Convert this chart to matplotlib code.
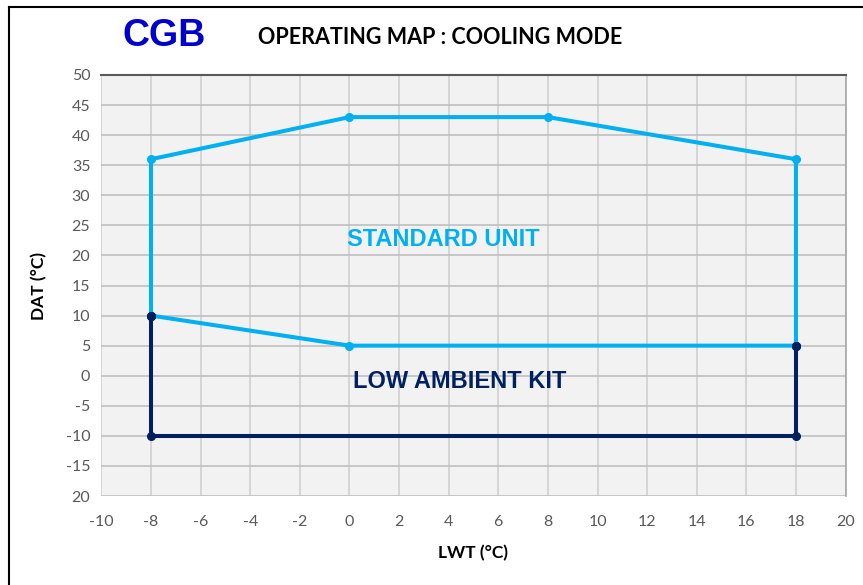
import matplotlib
matplotlib.use("Agg")
import matplotlib.pyplot as plt
from matplotlib.lines import Line2D

plt.rcParams["axes.unicode_minus"] = False

# Data
std_x = [-8, -8, 0, 8, 18, 18, 0, -8]
std_y = [10, 36, 43, 43, 36, 5, 5, 10]
low_x = [-8, -8, 18, 18]
low_y = [10, -10, -10, 5]
x_ticks = list(range(-10, 21, 2))
y_ticks = list(range(-20, 51, 5))
y_ticklabels = ["20"] + [str(v) for v in range(-15, 51, 5)]

light = "#00b0f0"
navy = "#002060"

fig = plt.figure(figsize=(8.63, 5.85), dpi=100)
ax = fig.add_axes([0.1175, 0.1521, 0.8623, 0.7197])
ax.set_facecolor("#f2f2f2")

ax.plot(std_x, std_y, color=light, lw=2.9, marker="o", ms=5.5, zorder=3,
        solid_joinstyle="round")
ax.plot(low_x, low_y, color=navy, lw=2.9, marker="o", ms=5.5, zorder=4,
        solid_joinstyle="round")
ax.plot([-8, 18], [10, 5], ls="none", marker="o", ms=5.5, color=navy, zorder=5)

ax.set_xlim(-10, 20)
ax.set_ylim(-20, 50)
ax.set_xticks(x_ticks)
ax.set_yticks(y_ticks)
ax.set_yticklabels(y_ticklabels)
ax.grid(True, axis="x", color="#d0d0d0", lw=1.2)
ax.grid(True, axis="y", color="#bfbfbf", lw=1.2)
ax.set_axisbelow(True)
for s in ["left", "bottom"]:
    ax.spines[s].set_visible(False)
ax.spines["top"].set_color("#595959")
ax.spines["top"].set_linewidth(1.5)
ax.spines["right"].set_color("#a6a6a6")
ax.spines["right"].set_linewidth(1.2)
ax.tick_params(length=0, labelsize=11.5, labelcolor="#595959", pad=8)
for lab in ax.get_xticklabels() + ax.get_yticklabels():
    lab.set_fontfamily("Lato")
ax.tick_params(axis="x", pad=14)

ax.set_xlabel("LWT (°C)", fontfamily="Lato", fontweight="bold", fontsize=12.5,
              labelpad=11)
ax.set_ylabel("DAT (°C)", fontfamily="Lato", fontweight="bold", fontsize=12.5,
              labelpad=13)

ax.text(3.77, 22.7, "STANDARD UNIT", color=light, fontsize=17, fontweight="bold",
        fontfamily="Liberation Sans", ha="center", va="center")
ax.text(4.46, -1.0, "LOW AMBIENT KIT", color=navy, fontsize=17, fontweight="bold",
        fontfamily="Liberation Sans", ha="center", va="center")

fig.text(164 / 863, 1 - 36 / 585, "CGB", color="#0000cc", fontsize=27,
         fontweight="bold", fontfamily="Liberation Sans", ha="center", va="center")
fig.text(440 / 863, 1 - 38 / 585, "OPERATING MAP : COOLING MODE", color="black",
         fontsize=15.5, fontweight="bold", fontfamily="Lato", ha="center", va="center")

# outer frame (top and left edges visible)
fig.add_artist(Line2D([9 / 863, 1.0], [1 - 7 / 585, 1 - 7 / 585],
                      transform=fig.transFigure, color="black", lw=1.5))
fig.add_artist(Line2D([9 / 863, 9 / 863], [0, 1 - 7 / 585],
                      transform=fig.transFigure, color="black", lw=1.5))

fig.savefig("out.png", dpi=100)
